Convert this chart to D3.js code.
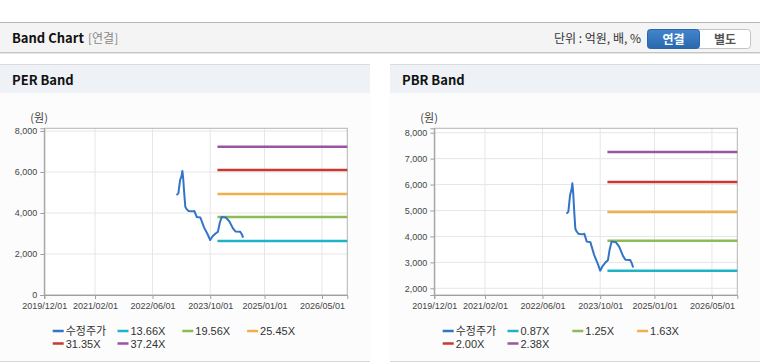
<!DOCTYPE html>
<html>
<head>
<meta charset="utf-8">
<script src="https://cdn.jsdelivr.net/npm/d3@7"></script>
<style>
  body { margin: 0; background: #fff; }
  svg { display: block; font-family: "Liberation Sans", "Noto Sans CJK KR", sans-serif; }
</style>
</head>
<body>
<svg id="chart" width="760" height="364"></svg>
<script>
// price series (수정주가)
const priceDates = ["2022/12/20", "2023/01/05", "2023/01/20", "2023/02/01", "2023/02/08", "2023/02/15",
  "2023/02/22", "2023/03/05", "2023/03/15", "2023/04/01", "2023/05/01", "2023/05/20", "2023/06/10",
  "2023/07/10", "2023/08/10", "2023/09/10", "2023/10/01", "2023/10/20", "2023/11/15", "2023/12/05",
  "2023/12/20", "2024/01/05", "2024/02/10", "2024/03/10", "2024/04/10", "2024/05/01", "2024/06/10",
  "2024/06/25", "2024/07/05"];
const prices = [4880, 4950, 5600, 5800, 6050, 5700, 5100, 4300, 4200, 4100, 4080, 4100, 3800,
  3780, 3300, 2950, 2680, 2850, 3000, 3080, 3500, 3800, 3780, 3600, 3250, 3100, 3090, 2950, 2800];

const bandDates = ["2023/12/01", "2026/12/01"];
const xTicks = ["2019/12/01", "2021/02/01", "2022/06/01", "2023/10/01", "2025/01/01", "2026/05/01"];
const xDomain = ["2019/12/01", "2026/12/01"];

const perLabels = ["13.66X", "19.56X", "25.45X", "31.35X", "37.24X"];
const perBands = [2634, 3805, 4927, 6098, 7234];
const perYTicks = [0, 2000, 4000, 6000, 8000];

const pbrLabels = ["0.87X", "1.25X", "1.63X", "2.00X", "2.38X"];
const pbrBands = [2677, 3831, 4946, 6100, 7254];
const pbrYTicks = [2000, 3000, 4000, 5000, 6000, 7000, 8000];

const priceColor = "#3474c8";
const bandColors = ["#1fb3c6", "#8dbb55", "#f0ae4f", "#c9392f", "#9a54a2"];

const parse = d3.timeParse("%Y/%m/%d");
const svg = d3.select("#chart");

// top bar
svg.append("rect").attr("x", 0).attr("y", 22).attr("width", 760).attr("height", 31).attr("fill", "#f4f4f4");
svg.append("line").attr("x1", 0).attr("x2", 760).attr("y1", 22.5).attr("y2", 22.5).attr("stroke", "#b8b8b8");
svg.append("line").attr("x1", 0).attr("x2", 760).attr("y1", 52.5).attr("y2", 52.5).attr("stroke", "#c4c4c4");
svg.append("line").attr("x1", 0).attr("x2", 760).attr("y1", 53.5).attr("y2", 53.5).attr("stroke", "#e6e6e6");

svg.append("text").attr("x", 12).attr("y", 43)
  .style("font-family", "'Noto Sans CJK KR'").style("font-size", "13px").style("font-weight", "bold")
  .attr("fill", "#111").text("Band Chart");
svg.append("text").attr("x", 88).attr("y", 43)
  .style("font-family", "'Noto Sans CJK KR'").style("font-size", "12px")
  .attr("fill", "#888").text("[연결]");
svg.append("text").attr("x", 641).attr("y", 43).attr("text-anchor", "end")
  .style("font-family", "'Noto Sans CJK KR'").style("font-size", "12px")
  .attr("fill", "#333").text("단위 : 억원, 배, %");

// buttons
const grad = svg.append("defs").append("linearGradient").attr("id", "btn").attr("x1", 0).attr("x2", 0).attr("y1", 0).attr("y2", 1);
grad.append("stop").attr("offset", "0%").attr("stop-color", "#4285cc");
grad.append("stop").attr("offset", "100%").attr("stop-color", "#2a68ad");
svg.append("rect").attr("x", 647.5).attr("y", 29.5).attr("width", 103).attr("height", 19).attr("rx", 3)
  .attr("fill", "#fff").attr("stroke", "#c3c3c3");
svg.append("rect").attr("x", 647.5).attr("y", 29.5).attr("width", 52).attr("height", 19).attr("rx", 3)
  .attr("fill", "url(#btn)").attr("stroke", "#2b66a8");
svg.append("text").attr("x", 673.5).attr("y", 43.5).attr("text-anchor", "middle")
  .style("font-family", "'Noto Sans CJK KR'").style("font-size", "12px").style("font-weight", "bold")
  .attr("fill", "#fff").text("연결");
svg.append("text").attr("x", 725).attr("y", 43.5).attr("text-anchor", "middle")
  .style("font-family", "'Noto Sans CJK KR'").style("font-size", "12px").style("font-weight", "bold")
  .attr("fill", "#555").text("별도");

function drawPanel(x0, title, yDomain, yTicks, bands, labels) {
  const g = svg.append("g").attr("transform", `translate(${x0},0)`);
  g.append("rect").attr("x", 0).attr("y", 64).attr("width", 370).attr("height", 298).attr("fill", "#fcfcfc");
  g.append("rect").attr("x", 0).attr("y", 64).attr("width", 370).attr("height", 29).attr("fill", "#eef2f7");
  g.append("line").attr("x1", 0).attr("x2", 370).attr("y1", 64.5).attr("y2", 64.5).attr("stroke", "#dcdcdc");
  g.append("line").attr("x1", 0).attr("x2", 370).attr("y1", 361.5).attr("y2", 361.5).attr("stroke", "#d8d8d8");
  g.append("text").attr("x", 12).attr("y", 85)
    .style("font-family", "'Noto Sans CJK KR'").style("font-size", "13px").style("font-weight", "bold")
    .attr("fill", "#111").text(title);

  const left = 44.3, right = 347.3, top = 128.3, bottom = 295;
  const x = d3.scaleTime().domain(xDomain.map(parse)).range([left, right]);
  const y = d3.scaleLinear().domain(yDomain).range([bottom, top]);

  g.append("rect").attr("x", left).attr("y", top).attr("width", right - left).attr("height", bottom - top)
    .attr("fill", "#fff");

  // grid
  g.append("g").selectAll("line").data(xTicks).join("line")
    .attr("x1", d => x(parse(d))).attr("x2", d => x(parse(d)))
    .attr("y1", top).attr("y2", bottom).attr("stroke", "#e6e6e6");
  g.append("g").selectAll("line").data(yTicks).join("line")
    .attr("x1", left).attr("x2", right)
    .attr("y1", d => y(d)).attr("y2", d => y(d)).attr("stroke", "#e6e6e6");

  g.append("rect").attr("x", left).attr("y", top).attr("width", right - left).attr("height", bottom - top)
    .attr("fill", "none").attr("stroke", "#b4b4b4");

  // axes
  const yAxis = g.append("g").attr("transform", `translate(${left},0)`)
    .call(d3.axisLeft(y).tickValues(yTicks).tickSize(4).tickPadding(3).tickFormat(d3.format(",")));
  const xAxis = g.append("g").attr("transform", `translate(0,${bottom})`)
    .call(d3.axisBottom(x).tickValues(xTicks.map(parse)).tickSize(4).tickPadding(4)
      .tickFormat(d3.timeFormat("%Y/%m/%d")));
  [yAxis, xAxis].forEach(a => {
    a.select(".domain").attr("stroke", "#a0a0a0");
    a.selectAll(".tick line").attr("stroke", "#a0a0a0");
    a.selectAll("text").attr("fill", "#444").style("font-size", "9px");
  });

  g.append("text").attr("x", left - 14).attr("y", 122).attr("fill", "#444")
    .style("font-family", "'Noto Sans CJK KR'").style("font-size", "11px").text("(원)");

  // bands
  g.append("g").selectAll("line").data(bands).join("line")
    .attr("x1", x(parse(bandDates[0]))).attr("x2", x(parse(bandDates[1])))
    .attr("y1", d => y(d)).attr("y2", d => y(d))
    .attr("stroke", (d, i) => bandColors[i]).attr("stroke-width", 2.5);

  // price line
  const pts = priceDates.map((d, i) => [parse(d), prices[i]]);
  g.append("path").datum(pts)
    .attr("d", d3.line().x(d => x(d[0])).y(d => y(d[1])))
    .attr("fill", "none").attr("stroke", priceColor).attr("stroke-width", 2).attr("stroke-linejoin", "round");

  // legend
  const items = [{ name: "수정주가", color: priceColor }]
    .concat(labels.map((l, i) => ({ name: l, color: bandColors[i] })));
  const lg = g.append("g").selectAll("g").data(items).join("g")
    .attr("transform", (d, i) => `translate(${left + 8.4 + (i % 4) * 64.8},${i < 4 ? 331 : 343.5})`);
  lg.append("line").attr("x1", 0).attr("x2", 11).attr("y1", 0).attr("y2", 0)
    .attr("stroke", d => d.color).attr("stroke-width", 2.5);
  lg.append("text").attr("x", 13).attr("y", 4).attr("fill", "#333")
    .style("font-size", "11px").text(d => d.name);
}

drawPanel(0, "PER Band", [0, 8132], perYTicks, perBands, perLabels);
drawPanel(390, "PBR Band", [1742, 8170], pbrYTicks, pbrBands, pbrLabels);
</script>
</body>
</html>
